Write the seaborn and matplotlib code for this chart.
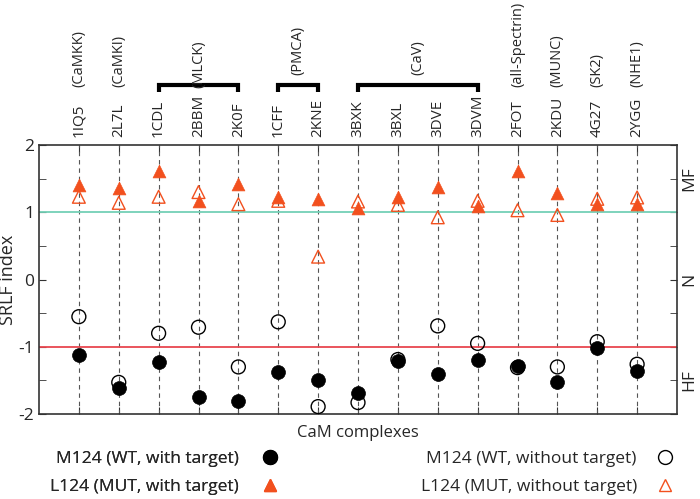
import numpy as np
import pandas as pd
import matplotlib
matplotlib.use("Agg")
import matplotlib.pyplot as plt
import matplotlib.transforms as mtransforms
from matplotlib.lines import Line2D
import seaborn as sns

# ---------------- data ----------------
categories = ["1IQ5", "2L7L", "1CDL", "2BBM", "2K0F", "1CFF", "2KNE", "3BXK",
              "3BXL", "3DVE", "3DVM", "2FOT", "2KDU", "4G27", "2YGG"]
single_targets = {"1IQ5": "(CaMKK)", "2L7L": "(CaMKI)", "2FOT": "(all-Spectrin)",
                  "2KDU": "(MUNC)", "4G27": "(SK2)", "2YGG": "(NHE1)"}
group_targets = [("(MLCK)", "1CDL", "2K0F"), ("(PMCA)", "1CFF", "2KNE"),
                 ("(CaV)", "3BXK", "3DVM")]

wt_target = [-1.12, -1.62, -1.23, -1.74, -1.80, -1.375, -1.49, -1.69,
             -1.21, -1.405, -1.19, -1.29, -1.52, -1.02, -1.36]
mut_target = [1.405, 1.36, 1.62, 1.16, 1.42, 1.23, 1.20, 1.06,
              1.22, 1.38, 1.09, 1.62, 1.28, 1.12, 1.13]
wt_free = [-0.553, -1.53, -0.80, -0.71, -1.30, -0.63, -1.89, -1.83,
           -1.19, -0.69, -0.95, -1.31, -1.30, -0.925, -1.26]
mut_free = [1.23, 1.14, 1.23, 1.30, 1.12, 1.17, 0.34, 1.16,
            1.11, 0.925, 1.17, 1.03, 0.96, 1.20, 1.22]

labels = ["M124 (WT, with target)", "L124 (MUT, with target)",
          "M124 (WT, without target)", "L124 (MUT, without target)"]
region_labels = ["MF", "N", "HF"]
region_values = [1.5, 0.0, -1.5]

# ---------------- style ----------------
sns.set_style("white")
plt.rcParams['font.family'] = ['Open Sans', 'DejaVu Sans']

ORANGE = "#f2501e"
GREEN = "#74d0b6"
RED = "#e8474f"
SPINE = "#333333"

pos = np.arange(1, len(categories) + 1)
df = pd.DataFrame({"pos": pos, "cat": categories, "wt_t": wt_target,
                   "mut_t": mut_target, "wt_f": wt_free, "mut_f": mut_free})

fig = plt.figure(figsize=(7.0, 4.99), dpi=100)
ax = fig.add_axes([39 / 700, 1 - 414 / 499, (677 - 39) / 700, (414 - 145) / 499])

ax.set_xlim(0, 16)
ax.set_ylim(-2, 2)

# guide lines
ax.vlines(df["pos"], -2, 2, colors="#555555", linestyles=(0, (4, 3.5)), linewidth=0.8, zorder=1)
ax.axhline(1, color=GREEN, lw=1.3, zorder=1.5)
ax.axhline(-1, color=RED, lw=1.3, zorder=1.5)

ms = 100
mt = 85
sns.scatterplot(data=df, x="pos", y="wt_t", ax=ax, marker="o", s=ms, color="black",
                edgecolor="black", linewidth=0.5, legend=False, zorder=3)
sns.scatterplot(data=df, x="pos", y="mut_t", ax=ax, marker="^", s=mt, color=ORANGE,
                edgecolor=ORANGE, linewidth=0.5, legend=False, zorder=3)
sns.scatterplot(data=df, x="pos", y="wt_f", ax=ax, marker="o", s=ms, facecolor="none",
                edgecolor="black", linewidth=1.0, legend=False, zorder=4)
sns.scatterplot(data=df, x="pos", y="mut_f", ax=ax, marker="^", s=mt, facecolor="none",
                edgecolor=ORANGE, linewidth=1.0, legend=False, zorder=4)

# axes / ticks
ax.set_xlabel("CaM complexes", fontsize=12, labelpad=8)
ax.set_ylabel("SRLF index", fontsize=13, labelpad=1)
ax.xaxis.set_label_position("bottom")
ax.xaxis.tick_top()
ax.set_xticks(pos)
ax.set_xticklabels(categories, rotation=90, fontsize=11)
ax.tick_params(axis="x", which="both", direction="in", length=5, top=True, bottom=True,
               labelbottom=False, labeltop=True, pad=6, color=SPINE)
ax.set_yticks([-2, -1, 0, 1, 2])
ax.set_yticklabels(["-2", "-1", "0", "1", "2"], fontsize=12.5)
ax.set_yticks(np.arange(-2, 2.01, 0.5), minor=True)
ax.tick_params(axis="y", which="both", direction="in", length=5, left=True, right=True,
               color=SPINE)
for sp in ax.spines.values():
    sp.set_color(SPINE)
    sp.set_linewidth(1.2)

trans = mtransforms.blended_transform_factory(ax.transData, ax.transAxes)
trans_r = mtransforms.blended_transform_factory(ax.transAxes, ax.transData)

for lab, v in zip(region_labels, region_values):
    ax.text(1.019, v, lab, transform=trans_r, rotation=90, ha="center", va="center",
            fontsize=12.5)

# target labels
for cat, t in single_targets.items():
    x = categories.index(cat) + 1
    ax.text(x, 1.214, t, transform=trans, rotation=90, ha="center", va="bottom",
            fontsize=10.5)

bracket_y = 1.222
for t, a, b in group_targets:
    xa = categories.index(a) + 1
    xb = categories.index(b) + 1
    ax.plot([xa, xa, xb, xb], [bracket_y - 0.026, bracket_y, bracket_y, bracket_y - 0.026],
            transform=trans, color="black", lw=3, clip_on=False, solid_joinstyle="miter",
            solid_capstyle="butt")
    xm = (xa + xb) / 2
    yb = 1.213 if t == "(MLCK)" else 1.26
    ax.text(xm, yb, t, transform=trans, rotation=90, ha="center", va="bottom",
            fontsize=10.5)

# legends
h1 = [Line2D([], [], ls="none", marker="o", ms=10, mfc="black", mec="black"),
      Line2D([], [], ls="none", marker="^", ms=9, mfc=ORANGE, mec=ORANGE)]
h2 = [Line2D([], [], ls="none", marker="o", ms=10, mfc="none", mec="black", mew=1.0),
      Line2D([], [], ls="none", marker="^", ms=9, mfc="none", mec=ORANGE, mew=1.0)]
leg1 = fig.legend(h1, labels[:2], loc="upper left", bbox_to_anchor=(50 / 700, 1 - 451 / 499),
                  frameon=False, markerfirst=False, fontsize=12.5, handlelength=1.2,
                  handletextpad=1.2, labelspacing=0.7, borderpad=0, borderaxespad=0)
leg2 = fig.legend(h2, labels[2:], loc="upper right", bbox_to_anchor=(675 / 700, 1 - 451 / 499),
                  frameon=False, markerfirst=False, fontsize=12.5, handlelength=1.2,
                  handletextpad=1.0, labelspacing=0.7, borderpad=0, borderaxespad=0)
fig.add_artist(leg1)

fig.savefig("out.png", dpi=100)
